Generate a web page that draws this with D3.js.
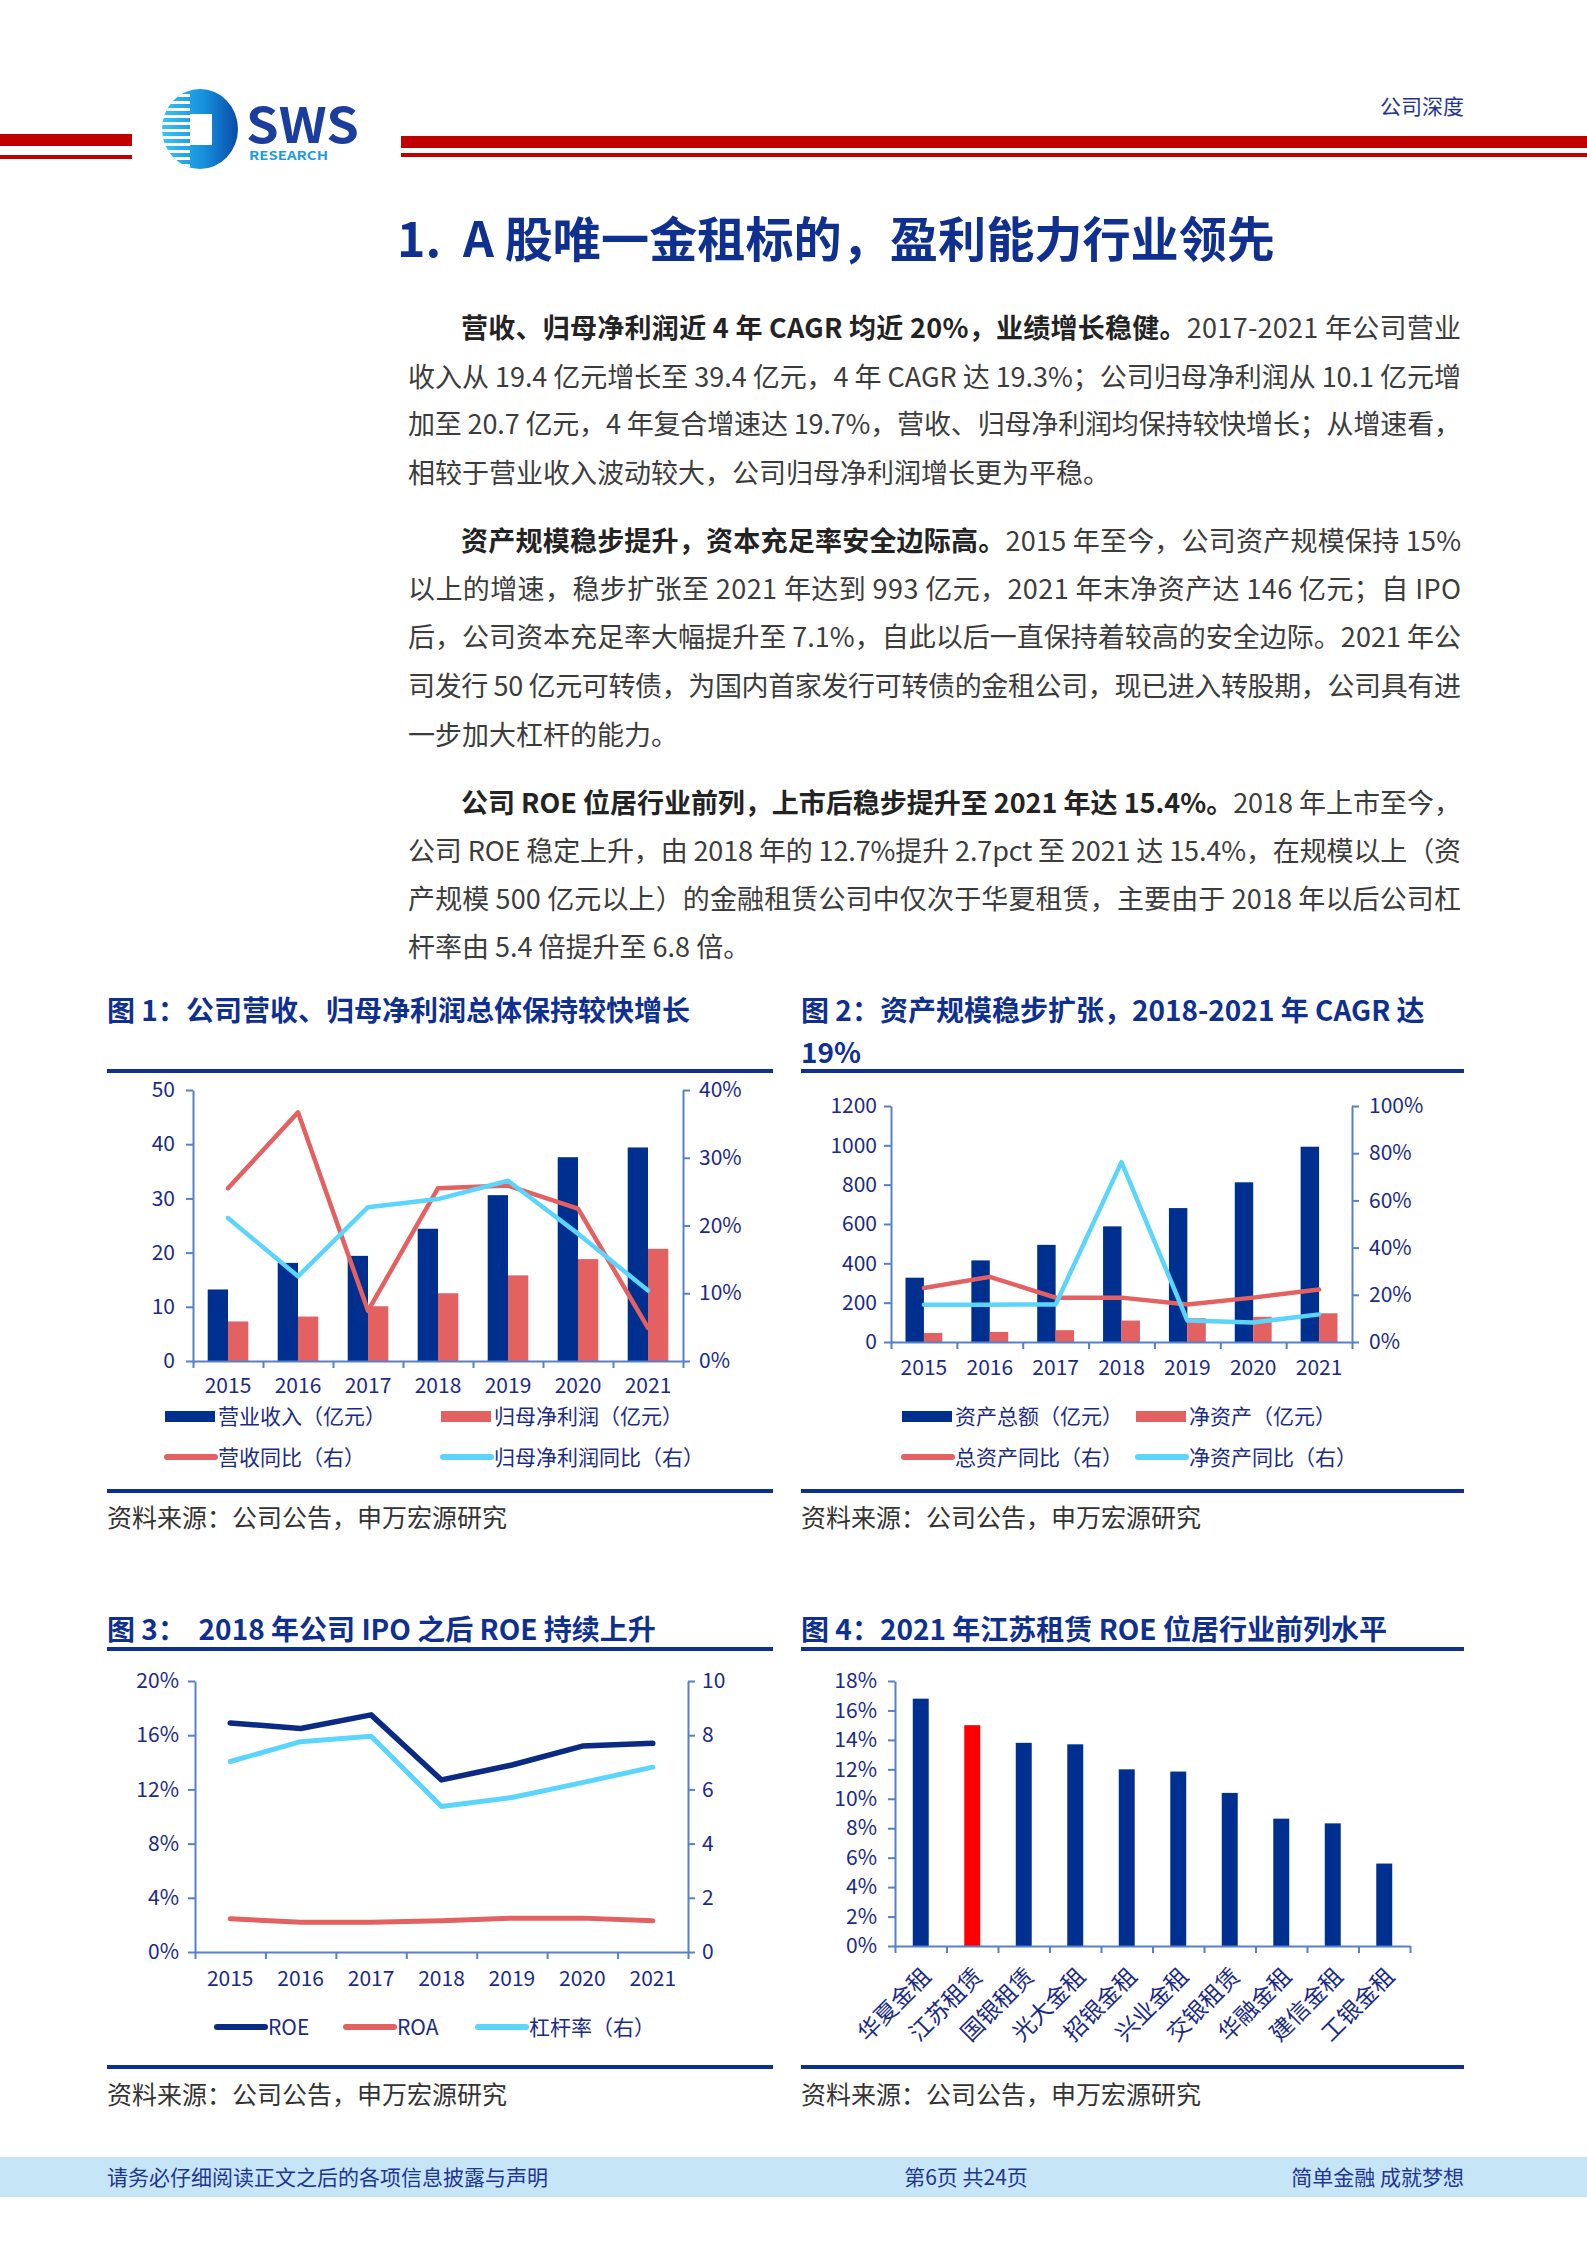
<!DOCTYPE html>
<html>
<head>
<meta charset="utf-8">
<script src="https://cdn.jsdelivr.net/npm/d3@7"></script>
<style>
body { margin: 0; background: #fff; }
svg text { font-family: "Noto Sans CJK SC", "Noto Sans", sans-serif; }
</style>
</head>
<body>
<svg id="page"></svg>
<script>
//Chart data
var years = ["2015", "2016", "2017", "2018", "2019", "2020", "2021"];

//Fig 1: revenue / net profit (亿元) and yoy (%)
var revenue = [13.2, 18.1, 19.4, 24.4, 30.6, 37.6, 39.4];
var netProfit = [7.3, 8.2, 10.1, 12.5, 15.8, 18.8, 20.7];
var revenueYoy = [25.5, 36.7, 7.4, 25.5, 25.9, 22.5, 4.9];
var profitYoy = [21.1, 12.5, 22.7, 23.9, 26.6, 18.8, 10.4];
var fig1LeftTicks = [0, 10, 20, 30, 40, 50];
var fig1RightTicks = [0, 10, 20, 30, 40];

//Fig 2: total / net assets (亿元) and yoy (%)
var totalAssets = [327, 415, 494, 588, 681, 812, 993];
var netAssets = [46, 51, 60, 109, 121, 128, 146];
var totalAssetsYoy = [22.9, 27.6, 18.8, 18.8, 15.9, 18.8, 22.2];
var netAssetsYoy = [15.8, 15.8, 15.9, 76.2, 9.1, 8.3, 11.7];
var fig2LeftTicks = [0, 200, 400, 600, 800, 1000, 1200];
var fig2RightTicks = [0, 20, 40, 60, 80, 100];

//Fig 3: ROE / ROA (%) and leverage (right axis)
var roe = [16.9, 16.5, 17.5, 12.7, 13.8, 15.2, 15.4];
var roa = [2.45, 2.2, 2.2, 2.3, 2.5, 2.5, 2.3];
var leverage = [7.03, 7.76, 7.96, 5.37, 5.70, 6.25, 6.82];
var fig3LeftTicks = [0, 4, 8, 12, 16, 20];
var fig3RightTicks = [0, 2, 4, 6, 8, 10];

//Fig 4: peer ROE 2021 (%)
var companies = ["华夏金租", "江苏租赁", "国银租赁", "光大金租", "招银金租", "兴业金租", "交银租赁", "华融金租", "建信金租", "工银金租"];
var peerRoe = [16.8, 15.0, 13.8, 13.7, 12.0, 11.85, 10.4, 8.65, 8.33, 5.6];
var highlightCompany = "江苏租赁";
var fig4Ticks = [0, 2, 4, 6, 8, 10, 12, 14, 16, 18];

//Body text lines
var para1 = [
    [{t: "营收、归母净利润近 4 年 CAGR 均近 20%，业绩增长稳健。", b: true}, {t: "2017-2021 年公司营业"}],
    [{t: "收入从 19.4 亿元增长至 39.4 亿元，4 年 CAGR 达 19.3%；公司归母净利润从 10.1 亿元增"}],
    [{t: "加至 20.7 亿元，4 年复合增速达 19.7%，营收、归母净利润均保持较快增长；从增速看，"}],
    [{t: "相较于营业收入波动较大，公司归母净利润增长更为平稳。"}]
];
var para2 = [
    [{t: "资产规模稳步提升，资本充足率安全边际高。", b: true}, {t: "2015 年至今，公司资产规模保持 15%"}],
    [{t: "以上的增速，稳步扩张至 2021 年达到 993 亿元，2021 年末净资产达 146 亿元；自 IPO"}],
    [{t: "后，公司资本充足率大幅提升至 7.1%，自此以后一直保持着较高的安全边际。2021 年公"}],
    [{t: "司发行 50 亿元可转债，为国内首家发行可转债的金租公司，现已进入转股期，公司具有进"}],
    [{t: "一步加大杠杆的能力。"}]
];
var para3 = [
    [{t: "公司 ROE 位居行业前列，上市后稳步提升至 2021 年达 15.4%。", b: true}, {t: "2018 年上市至今，"}],
    [{t: "公司 ROE 稳定上升，由 2018 年的 12.7%提升 2.7pct 至 2021 达 15.4%，在规模以上（资"}],
    [{t: "产规模 500 亿元以上）的金融租赁公司中仅次于华夏租赁，主要由于 2018 年以后公司杠"}],
    [{t: "杆率由 5.4 倍提升至 6.8 倍。"}]
];

//Colours
var NAVY = "#00308f";
var RED = "#e46161";
var CYAN = "#5bd5fc";
var AXIS = "#5580cc";
var LABEL = "#1b2a84";
var TITLE = "#10308f";
var BODY = "#3c3c3c";
var NUMFONT = "'Liberation Sans', Arial, 'Noto Sans CJK SC', sans-serif";

var svg = d3.select("#page")
            .attr("width", 1587)
            .attr("height", 2245);

svg.append("rect").attr("width", 1587).attr("height", 2245).attr("fill", "#fff");

//Header red bars
svg.append("rect").attr("x", 0).attr("y", 134).attr("width", 132).attr("height", 12).attr("fill", "#c00000");
svg.append("rect").attr("x", 0).attr("y", 155).attr("width", 132).attr("height", 4).attr("fill", "#c00000");
svg.append("rect").attr("x", 401).attr("y", 136).attr("width", 1186).attr("height", 12).attr("fill", "#c00000");
svg.append("rect").attr("x", 401).attr("y", 153).attr("width", 1186).attr("height", 4).attr("fill", "#c00000");

//Logo
var defs = svg.append("defs");
var grad = defs.append("linearGradient").attr("id", "logoGrad").attr("x1", "0").attr("x2", "1");
grad.append("stop").attr("offset", "0").attr("stop-color", "#38c4f6");
grad.append("stop").attr("offset", "0.55").attr("stop-color", "#1590dd");
grad.append("stop").attr("offset", "1").attr("stop-color", "#0a4aa8");
defs.append("clipPath").attr("id", "logoClip")
    .append("ellipse").attr("cx", 200).attr("cy", 129).attr("rx", 38).attr("ry", 40);

var logo = svg.append("g");
logo.append("ellipse").attr("cx", 200).attr("cy", 129).attr("rx", 38).attr("ry", 40).attr("fill", "url(#logoGrad)");
var stripeYs = d3.range(94, 168, 7);
logo.append("g").attr("clip-path", "url(#logoClip)")
    .selectAll("rect").data(stripeYs).join("rect")
    .attr("x", 160).attr("y", function(d){ return d; })
    .attr("width", 30).attr("height", 3).attr("fill", "#fff");
logo.append("rect").attr("x", 190).attr("y", 114).attr("width", 22).attr("height", 31).attr("fill", "#fff");

//Logo words: SWS drawn narrow and tall so it sits above RESEARCH
svg.append("text")
    .attr("transform", "translate(246,143) scale(1,1.35)")
    .attr("font-family", NUMFONT).attr("font-weight", 700).attr("font-size", 36)
    .attr("textLength", 113).attr("lengthAdjust", "spacingAndGlyphs")
    .attr("fill", "#1b3d9e").text("SWS");
svg.append("text").attr("x", 249).attr("y", 160)
    .attr("font-family", NUMFONT).attr("font-weight", 700).attr("font-size", 12)
    .attr("textLength", 79).attr("lengthAdjust", "spacingAndGlyphs")
    .attr("fill", "#1e9be0").text("RESEARCH");

svg.append("text").attr("x", 1464).attr("y", 114).attr("text-anchor", "end")
    .style("font-size", "21px").attr("fill", "#1f3590").text("公司深度");

//Section title
svg.append("text").attr("x", 397).attr("y", 257)
    .attr("xml:space", "preserve")
    .style("font-size", "48px").attr("font-weight", 700).attr("fill", TITLE)
    .attr("textLength", 878).attr("lengthAdjust", "spacingAndGlyphs")
    .text("1.  A 股唯一金租标的，盈利能力行业领先");

//Body paragraphs
function drawParagraph(lines, baselines) {
    lines.forEach(function(parts, i){
        var first = i === 0;
        var last = i === lines.length - 1;
        var x = first ? 461 : 408;
        var t = svg.append("text")
                   .attr("x", x)
                   .attr("y", baselines[i])
                   .style("font-size", "27px");
        parts.forEach(function(p){
            t.append("tspan")
             .attr("font-weight", p.b ? 700 : 400)
             .attr("fill", p.b ? "#232323" : BODY)
             .text(p.t);
        });
        if (!last) {
            t.attr("textLength", 1461 - x).attr("lengthAdjust", "spacing");
        }
    });
}
drawParagraph(para1, [338, 387, 434, 483]);
drawParagraph(para2, [551, 599, 647, 696, 745]);
drawParagraph(para3, [813, 861, 909, 957]);

//Figure frames: title, rules and source
function frame(x0, x1, titleLines, titleY, topRule, bottomRule, sourceY) {
    titleLines.forEach(function(s, i){
        svg.append("text").attr("x", x0).attr("y", titleY + i * 42)
            .style("font-size", "28px").attr("font-weight", 700).attr("fill", TITLE)
            .attr("xml:space", "preserve").text(s);
    });
    svg.append("rect").attr("x", x0).attr("y", topRule).attr("width", x1 - x0).attr("height", 4).attr("fill", TITLE);
    svg.append("rect").attr("x", x0).attr("y", bottomRule).attr("width", x1 - x0).attr("height", 4).attr("fill", TITLE);
    svg.append("text").attr("x", x0).attr("y", sourceY)
        .style("font-size", "25px").attr("fill", "#333").text("资料来源：公司公告，申万宏源研究");
}
frame(107, 773, ["图 1：公司营收、归母净利润总体保持较快增长"], 1021, 1069, 1489, 1527);
frame(801, 1464, ["图 2：资产规模稳步扩张，2018-2021 年 CAGR 达", "19%"], 1021, 1069, 1489, 1527);
frame(107, 773, ["图 3：  2018 年公司 IPO 之后 ROE 持续上升"], 1640, 1647, 2065, 2104);
frame(801, 1464, ["图 4：2021 年江苏租赁 ROE 位居行业前列水平"], 1640, 1647, 2065, 2104);

//Axis styling
function styleAxis(g) {
    g.attr("font-family", NUMFONT).attr("font-size", 21);
    g.select(".domain").attr("stroke", AXIS).attr("stroke-width", 2);
    g.selectAll(".tick line").attr("stroke", AXIS).attr("stroke-width", 2);
    g.selectAll(".tick text").attr("fill", LABEL);
}

function pct(d){ return d + "%"; }
var plain = d3.format("d");

//Axes for a category chart
function drawAxes(o) {
    var n = o.xScale.domain().length;
    var bounds = d3.scaleLinear().domain([0, n]).range(o.xScale.range());

    svg.append("g")
       .attr("transform", "translate(0," + o.y0 + ")")
       .call(d3.axisBottom(bounds).tickValues(d3.range(n + 1)).tickFormat("").tickSize(7).tickSizeOuter(0))
       .call(styleAxis);

    if (o.xLabels) {
        svg.append("g")
           .attr("transform", "translate(0," + o.y0 + ")")
           .call(d3.axisBottom(o.xScale).tickSize(0).tickPadding(o.xPad))
           .call(styleAxis)
           .call(function(g){ g.select(".domain").remove(); });
    }

    svg.append("g")
       .attr("transform", "translate(" + o.xScale.range()[0] + ",0)")
       .call(d3.axisLeft(o.yLeft).tickValues(o.leftTicks).tickFormat(o.leftFormat || plain)
             .tickSize(7).tickSizeOuter(0).tickPadding(o.leftPad))
       .call(styleAxis);

    if (o.yRight) {
        svg.append("g")
           .attr("transform", "translate(" + o.xScale.range()[1] + ",0)")
           .call(d3.axisRight(o.yRight).tickValues(o.rightTicks).tickFormat(o.rightFormat || plain)
                 .tickSize(7).tickSizeOuter(0).tickPadding(o.rightPad))
           .call(styleAxis);
    }
}

function legendItem(x, y, kind, color, label) {
    if (kind === "rect") {
        svg.append("rect").attr("x", x).attr("y", y - 5).attr("width", 50).attr("height", 11).attr("fill", color);
    } else {
        svg.append("line").attr("x1", x + 2).attr("x2", x + 50).attr("y1", y).attr("y2", y)
           .attr("stroke", color).attr("stroke-width", 6).attr("stroke-linecap", "round");
    }
    svg.append("text").attr("x", x + 53).attr("y", y).attr("dy", "0.36em")
       .style("font-size", "21px").attr("fill", LABEL).text(label);
}

function drawLine(xScale, yScale, values, color, width) {
    var line = d3.line()
                 .x(function(d, i){ return xScale(years[i]) + xScale.bandwidth() / 2; })
                 .y(function(d){ return yScale(d); });
    svg.append("path").datum(values)
       .attr("d", line)
       .attr("fill", "none")
       .attr("stroke", color)
       .attr("stroke-width", width)
       .attr("stroke-linejoin", "round")
       .attr("stroke-linecap", "round");
}

//Dual axis bar + line chart
function barLineChart(o) {
    var x = d3.scaleBand().domain(years).range([o.left, o.right]);
    var yL = d3.scaleLinear().domain([0, o.leftMax]).range([o.y0, o.yTop]);
    var yR = d3.scaleLinear().domain([0, o.rightMax]).range([o.y0, o.yTop]);
    var bw = x.bandwidth() * o.barShare;

    svg.append("g").selectAll("rect").data(o.barA).join("rect")
       .attr("x", function(d, i){ return x(years[i]) + x.bandwidth() / 2 - bw; })
       .attr("y", function(d){ return yL(d); })
       .attr("width", bw)
       .attr("height", function(d){ return o.y0 - yL(d); })
       .attr("fill", NAVY);

    svg.append("g").selectAll("rect").data(o.barB).join("rect")
       .attr("x", function(d, i){ return x(years[i]) + x.bandwidth() / 2; })
       .attr("y", function(d){ return yL(d); })
       .attr("width", bw)
       .attr("height", function(d){ return o.y0 - yL(d); })
       .attr("fill", RED);

    drawAxes({xScale: x, y0: o.y0, xLabels: true, xPad: o.xPad,
              yLeft: yL, leftTicks: o.leftTicks, leftPad: o.leftPad,
              yRight: yR, rightTicks: o.rightTicks, rightFormat: pct, rightPad: o.rightPad});

    drawLine(x, yR, o.lineA, RED, 4.5);
    drawLine(x, yR, o.lineB, CYAN, 4.5);
}

//Fig 1
barLineChart({
    left: 193, right: 683, y0: 1361, yTop: 1090,
    leftMax: 50, rightMax: 40, barShare: 0.29,
    barA: revenue, barB: netProfit, lineA: revenueYoy, lineB: profitYoy,
    leftTicks: fig1LeftTicks, rightTicks: fig1RightTicks,
    leftPad: 11, rightPad: 9, xPad: 17
});
legendItem(165, 1416, "rect", NAVY, "营业收入（亿元）");
legendItem(441, 1416, "rect", RED, "归母净利润（亿元）");
legendItem(165, 1457, "line", RED, "营收同比（右）");
legendItem(441, 1457, "line", CYAN, "归母净利润同比（右）");

//Fig 2
barLineChart({
    left: 891, right: 1352, y0: 1342, yTop: 1106,
    leftMax: 1200, rightMax: 100, barShare: 0.28,
    barA: totalAssets, barB: netAssets, lineA: totalAssetsYoy, lineB: netAssetsYoy,
    leftTicks: fig2LeftTicks, rightTicks: fig2RightTicks,
    leftPad: 7, rightPad: 10, xPad: 18
});
legendItem(902, 1416, "rect", NAVY, "资产总额（亿元）");
legendItem(1136, 1416, "rect", RED, "净资产（亿元）");
legendItem(902, 1457, "line", RED, "总资产同比（右）");
legendItem(1136, 1457, "line", CYAN, "净资产同比（右）");

//Fig 3
(function(){
    var x = d3.scaleBand().domain(years).range([195, 688]);
    var yL = d3.scaleLinear().domain([0, 20]).range([1952, 1681]);
    var yR = d3.scaleLinear().domain([0, 10]).range([1952, 1681]);

    drawAxes({xScale: x, y0: 1952, xLabels: true, xPad: 19,
              yLeft: yL, leftTicks: fig3LeftTicks, leftFormat: pct, leftPad: 9,
              yRight: yR, rightTicks: fig3RightTicks, rightPad: 7});

    drawLine(x, yL, roa, RED, 5);
    drawLine(x, yR, leverage, CYAN, 5);
    drawLine(x, yL, roe, "#0a2a84", 5.5);

    legendItem(215, 2027, "line", "#0a2a84", "ROE");
    legendItem(344, 2027, "line", RED, "ROA");
    legendItem(476, 2027, "line", CYAN, "杠杆率（右）");
})();

//Fig 4
(function(){
    var x = d3.scaleBand().domain(companies).range([895, 1410]);
    var y = d3.scaleLinear().domain([0, 18]).range([1946, 1681]);
    var bw = x.bandwidth() * 0.31;

    svg.append("g").selectAll("rect").data(peerRoe).join("rect")
       .attr("x", function(d, i){ return x(companies[i]) + (x.bandwidth() - bw) / 2; })
       .attr("y", function(d){ return y(d); })
       .attr("width", bw)
       .attr("height", function(d){ return 1946 - y(d); })
       .attr("fill", function(d, i){ return companies[i] === highlightCompany ? "#ff0000" : NAVY; });

    drawAxes({xScale: x, y0: 1946, xLabels: false,
              yLeft: y, leftTicks: fig4Ticks, leftFormat: pct, leftPad: 11});

    svg.append("g").selectAll("text").data(companies).join("text")
       .attr("transform", function(d){
           var cx = x(d) + x.bandwidth() / 2 + 6;
           return "translate(" + cx + ",1972) rotate(-45)";
       })
       .attr("text-anchor", "end")
       .attr("dy", "0.35em")
       .style("font-size", "23px")
       .attr("fill", LABEL)
       .text(function(d){ return d; });
})();

//Footer
svg.append("rect").attr("x", 0).attr("y", 2157).attr("width", 1587).attr("height", 40).attr("fill", "#c6e6f8");
svg.append("text").attr("x", 107).attr("y", 2185).style("font-size", "21px").attr("fill", "#1f3590")
   .text("请务必仔细阅读正文之后的各项信息披露与声明");
svg.append("text").attr("x", 966).attr("y", 2185).attr("text-anchor", "middle").style("font-size", "21px").attr("fill", "#1f3590")
   .text("第6页 共24页");
svg.append("text").attr("x", 1464).attr("y", 2185).attr("text-anchor", "end").style("font-size", "21px").attr("fill", "#1f3590")
   .text("简单金融 成就梦想");
</script>
</body>
</html>
